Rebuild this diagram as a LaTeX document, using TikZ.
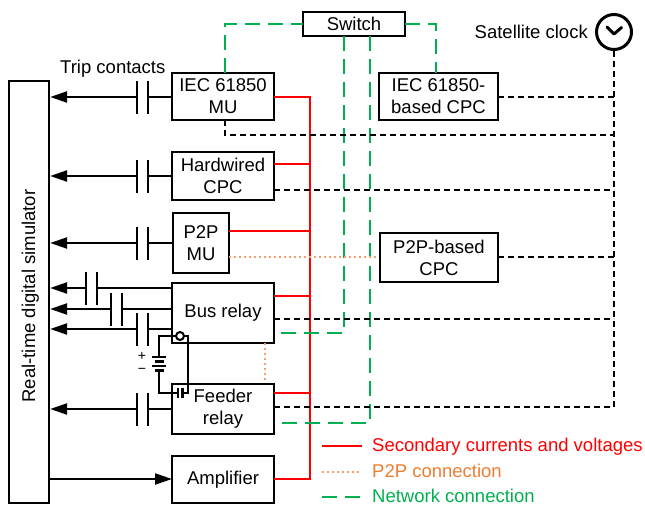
\documentclass[tikz,border=0pt]{standalone}
\usepackage{fontspec}
\setmainfont{Liberation Sans}
\usetikzlibrary{arrows.meta,calc}
\definecolor{sred}{RGB}{255,0,0}
\definecolor{porange}{RGB}{237,125,49}
\definecolor{pdot}{RGB}{244,160,110}
\definecolor{ngreen}{RGB}{0,176,80}
\newcommand\captrip[2]{\draw[plate] (#1,#2-16.5) -- (#1,#2+16.5) (#1+11,#2-16.5) -- (#1+11,#2+16.5);}
\begin{document}
\begin{tikzpicture}[x=1pt,y=-1pt,
  every node/.style={font=\fontsize{18.5}{22}\selectfont},
  box/.style={draw,line width=2.3pt,inner sep=0pt,align=center},
  lbl/.style={inner sep=0pt},
  sec/.style={sred,line width=2.2pt},
  p2p/.style={pdot,line width=1.8pt,dash pattern=on 1.6pt off 3.4pt},
  net/.style={ngreen,line width=2.3pt,dash pattern=on 15pt off 8pt},
  clk/.style={black,line width=2.3pt,dash pattern=on 6pt off 4pt},
  wire/.style={line width=2.3pt},
  plate/.style={line width=2.3pt},
  arr/.style={wire,-{Triangle[length=17pt,width=11pt]}},
]
\useasboundingbox (0,0) rectangle (645,506);

% boxes
\node[box,minimum width=40pt,minimum height=422pt] (sim) at (29,292) {};
\node[lbl,rotate=90,anchor=base] (simtxt) at (35,296) {Real-time digital simulator};
\node[box,minimum width=102pt,minimum height=47pt] (mu) at (223,96.5) {IEC 61850\\MU};
\node[box,minimum width=102pt,minimum height=48pt] (hw) at (223,176) {Hardwired\\CPC};
\node[box,minimum width=56pt,minimum height=60pt] (p2pmu) at (201,243) {P2P\\MU};
\node[box,minimum width=102pt,minimum height=60pt] (bus) at (223,313) {Bus relay};
\node[box,minimum width=102pt,minimum height=50pt] (feeder) at (223,409) {Feeder\\relay};
\node[box,minimum width=102pt,minimum height=47pt] (amp) at (223,479.5) {Amplifier};
\node[box,minimum width=102pt,minimum height=24pt] (swi) at (354,24) {Switch};
\node[box,minimum width=119pt,minimum height=47pt] (iecpc) at (438.5,96.5) {IEC 61850-\\based CPC};
\node[box,minimum width=118pt,minimum height=49pt] (p2ppc) at (439,257.5) {P2P-based\\CPC};

% clock
\node[circle,draw,line width=3pt,minimum size=35pt,inner sep=0pt] (clock) at (614,32) {};
\draw[line width=3pt,line cap=round,line join=round] (607,27) -- (614,34) -- (621.5,27.5);
\node[lbl,anchor=base east] (satl) at (588,38.3) {Satellite clock};
\node[lbl,anchor=base west] (tripl) at (60,73.5) {Trip contacts};

% trip contacts
\coordinate (muA) at (137,97); \coordinate (muB) at (148,97);
\draw[wire] (mu.west |- muB) -- (muB);
\captrip{137}{97}
\draw[arr] (muA) -- (sim.east |- muA);

\coordinate (hwA) at (137,176); \coordinate (hwB) at (148,176);
\draw[wire] (hw.west) -- (hwB);
\captrip{137}{176}
\draw[arr] (hwA) -- (sim.east |- hwA);

\coordinate (pmA) at (137,243); \coordinate (pmB) at (148,243);
\draw[wire] (p2pmu.west) -- (pmB);
\captrip{137}{243}
\draw[arr] (pmA) -- (sim.east |- pmA);

\coordinate (b1A) at (86,288); \coordinate (b1B) at (97,288);
\draw[wire] (bus.west |- b1B) -- (b1B);
\captrip{86}{288}
\draw[arr] (b1A) -- (sim.east |- b1A);

\coordinate (b2A) at (111,309); \coordinate (b2B) at (122,309);
\draw[wire] (bus.west |- b2B) -- (b2B);
\captrip{111}{309}
\draw[arr] (b2A) -- (sim.east |- b2A);

\coordinate (b3A) at (137,329); \coordinate (b3B) at (148,329);
\draw[wire] (bus.west |- b3B) -- (b3B);
\captrip{137}{329}
\draw[arr] (b3A) -- (sim.east |- b3A);

\coordinate (fA) at (137,409); \coordinate (fB) at (148,409);
\draw[wire] (feeder.west) -- (fB);
\captrip{137}{409}
\draw[arr] (fA) -- (sim.east |- fA);

\coordinate (ampin) at (172,479);
\draw[arr] (sim.east |- ampin) -- (ampin);

% battery and breaker contact
\node[circle,draw,line width=2pt,minimum size=8pt,inner sep=0pt] (cnt) at (180,336) {};
\draw[wire] (cnt.west) -- (159,336) -- (159,357);
\draw[wire] (152,357) -- (166,357) (154.5,361.5) -- (163.5,361.5) (152,366) -- (166,366) (154.5,370.5) -- (163.5,370.5);
\draw[wire] (159,370.5) -- (159,393) -- (178,393);
\draw[wire] (178,388) -- (178,398) (182.5,388) -- (182.5,398);
\draw[wire] (182.5,393) -- (188,393) -- (188,336) -- (cnt.east);
\node[lbl,font=\fontsize{14}{16}\selectfont] (plus) at (142,356) {+};
\node[lbl,font=\fontsize{14}{16}\selectfont] (minus) at (142,371) {−};

% secondary currents and voltages
\coordinate (mur) at (274,97);
\coordinate (rt) at (310,97); \coordinate (rb) at (310,479);
\coordinate (ampr) at (274,479);
\draw[sec] (mur) -- (rt) -- (rb) -- (ampr);
\coordinate (hwr) at (274,164); \draw[sec] (hwr) -- (hwr -| rt);
\coordinate (pmr) at (229,231); \draw[sec] (pmr) -- (pmr -| rt);
\coordinate (bsr) at (274,296); \draw[sec] (bsr) -- (bsr -| rt);
\coordinate (fdr) at (274,393); \draw[sec] (fdr) -- (fdr -| rt);

% network
\coordinate (mun) at (225,73); \coordinate (swl) at (303,24);
\draw[net] (mun) |- (swl);
\coordinate (swr) at (405,24); \coordinate (iecn) at (436,73);
\draw[net] (swr) -| (iecn);
\coordinate (busg) at (274,333); \coordinate (feedg) at (274,423);
\draw[net] (344,36) |- (busg);
\draw[net] (370,36) |- (feedg);

% P2P
\coordinate (pmo) at (229,257); \draw[p2p] (pmo) -- (pmo -| p2ppc.west);
\coordinate (buso) at (265,343); \draw[p2p] (buso) -- (buso |- feeder.north);

% time sync
\coordinate (fdk) at (274,407);
\draw[clk] (clock.south) -- (clock.south |- fdk) -- (fdk);
\coordinate (iecr) at (498,97); \draw[clk] (iecr) -- (iecr -| clock.south);
\coordinate (mus) at (225,120); \coordinate (mub) at (225,135);
\draw[clk] (mus) -- (mub) -- (mub -| clock.south);
\coordinate (hwk) at (274,190); \draw[clk] (hwk) -- (hwk -| clock.south);
\coordinate (ppk) at (498,257); \draw[clk] (ppk) -- (ppk -| clock.south);
\coordinate (busk) at (274,319); \draw[clk] (busk) -- (busk -| clock.south);

% legend
\coordinate (lg1) at (322,446); \draw[sec] (lg1) -- ++(40,0);
\node[lbl,anchor=base west,text=sred] (lt1) at (372,451.7) {Secondary currents and voltages};
\coordinate (lg2) at (322,472); \draw[p2p] (lg2) -- ++(40,0);
\node[lbl,anchor=base west,text=porange] (lt2) at (372,477.7) {P2P connection};
\coordinate (lg3) at (322,497); \draw[net] (lg3) -- ++(40,0);
\node[lbl,anchor=base west,text=ngreen] (lt3) at (372,502.3) {Network connection};
\end{tikzpicture}
\end{document}
